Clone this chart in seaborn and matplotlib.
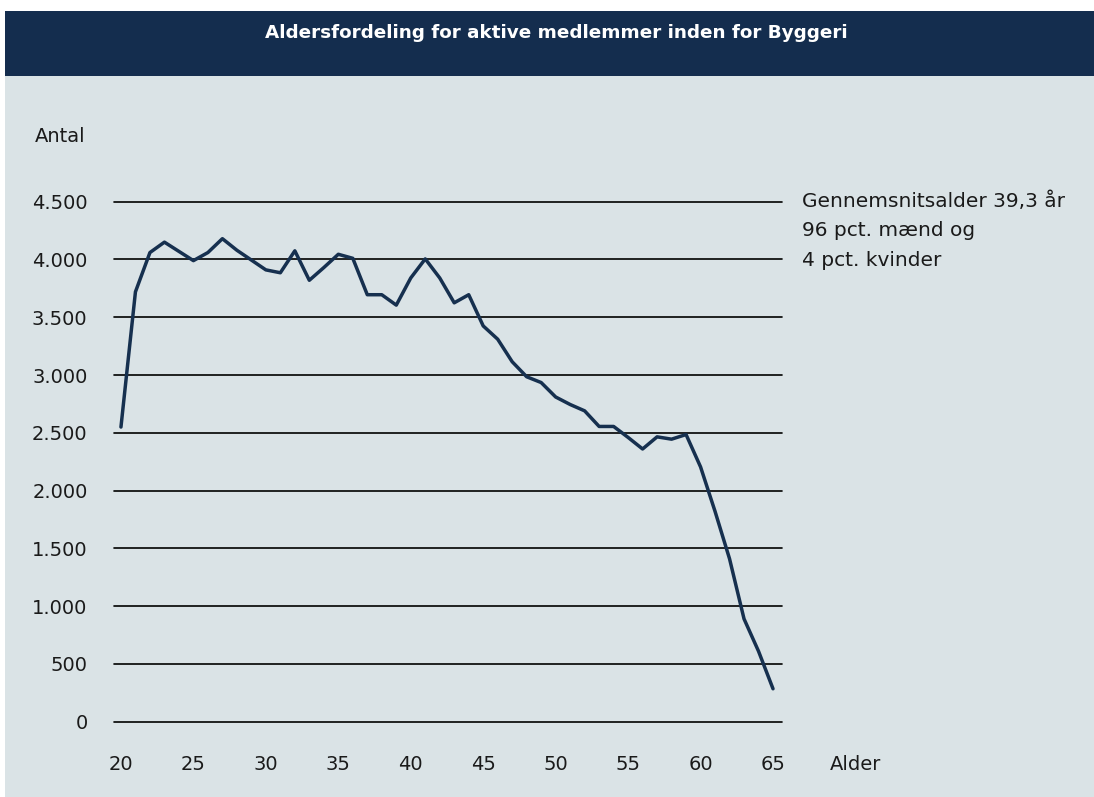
import pandas as pd
import numpy as np
import matplotlib.pyplot as plt
import seaborn as sns
from matplotlib.patches import Rectangle

# data
alder = list(range(20, 66))
antal = [2550, 3720, 4060, 4150, 4070, 3990, 4060, 4180, 4080, 3995,
         3910, 3885, 4075, 3820, 3930, 4045, 4010, 3695, 3695, 3605,
         3840, 4005, 3840, 3625, 3695, 3425, 3310, 3115, 2985, 2935,
         2810, 2745, 2690, 2555, 2555, 2460, 2360, 2465, 2445, 2485,
         2205, 1820, 1410, 890, 610, 285]
yticks = [0, 500, 1000, 1500, 2000, 2500, 3000, 3500, 4000, 4500]
ytick_labels = ['0', '500', '1.000', '1.500', '2.000', '2.500', '3.000', '3.500', '4.000', '4.500']
xticks = [20, 25, 30, 35, 40, 45, 50, 55, 60, 65]
title = 'Aldersfordeling for aktive medlemmer inden for Byggeri'
note = ['Gennemsnitsalder 39,3 år', '96 pct. mænd og', '4 pct. kvinder']

DT = pd.DataFrame({'Alder': alder, 'Antal': antal})

sns.set_style('white')
plt.rcParams['font.family'] = ['DejaVu Sans']

W, H = 1094, 797
fig = plt.figure(figsize=(W / 100, H / 100), dpi=100, facecolor='white')

# background panel and header band
fig.patches.append(Rectangle((5 / W, 0), 1, (H - 76) / H, transform=fig.transFigure,
                             facecolor='#dae3e6', edgecolor='none', zorder=0))
fig.patches.append(Rectangle((5 / W, (H - 76) / H), 1, 65 / H, transform=fig.transFigure,
                             facecolor='#142d4e', edgecolor='none', zorder=0))
fig.text(556 / W, 1 - 33 / H, title, color='white', fontsize=13.2, fontweight='bold',
         ha='center', va='center')

ax = fig.add_axes([114 / W, 1 - 721.7 / H, (781.7 - 114) / W, (721.7 - 201.7) / H])
ax.set_zorder(5)
ax.set_facecolor('none')
for y in yticks:
    ax.axhline(y, color='black', lw=1.2, zorder=1, clip_on=False)
sns.lineplot(x='Alder', y='Antal', data=DT, color='#16304f', lw=2.5, ax=ax, zorder=3)

ax.set_xlim(19.52, 65.6)
ax.set_ylim(0, 4500)
ax.set_yticks(yticks)
ax.set_yticklabels(ytick_labels)
ax.set_xticks(xticks)
ax.set_xticklabels([str(x) for x in xticks])
ax.tick_params(axis='y', length=0, pad=19, labelsize=14, labelcolor='#1a1a1a')
ax.tick_params(axis='x', length=0, pad=24, labelsize=14, labelcolor='#1a1a1a')
ax.set_xlabel('')
ax.set_ylabel('')
for s in ax.spines.values():
    s.set_visible(False)

fig.text(35 / W, 1 - 136 / H, 'Antal', fontsize=14, color='#1a1a1a', ha='left', va='center')
fig.text(830 / W, 1 - 764 / H, 'Alder', fontsize=14, color='#1a1a1a', ha='left', va='center')
for i, t in enumerate(note):
    fig.text(802 / W, 1 - (201 + 29.5 * i) / H, t, fontsize=14.5, color='#1a1a1a',
             ha='left', va='center')

plt.savefig('out.png', dpi=100, facecolor=fig.get_facecolor())
